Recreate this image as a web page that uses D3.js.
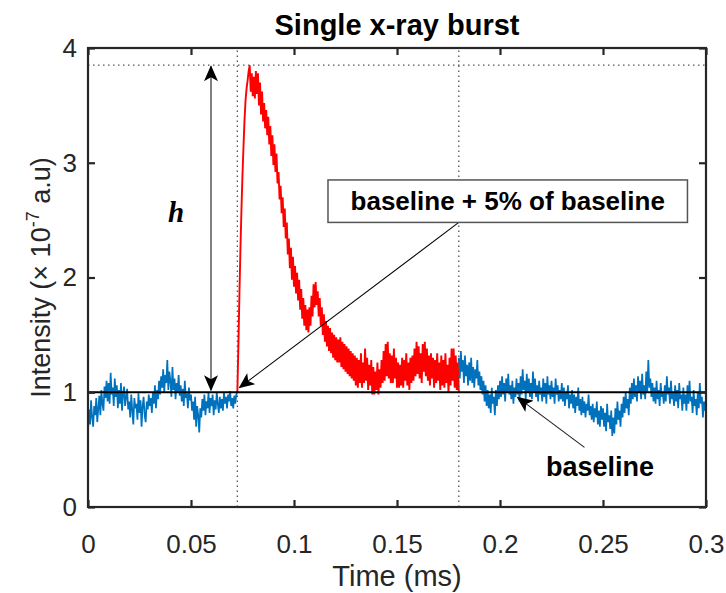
<!DOCTYPE html>
<html>
<head>
<meta charset="utf-8">
<script src="https://cdnjs.cloudflare.com/ajax/libs/d3/7.8.5/d3.min.js"></script>
<style>
  html, body { margin: 0; padding: 0; background: #fff; }
  svg { display: block; font-family: "Liberation Sans", Arial, sans-serif; }
</style>
</head>
<body>
<svg id="chart" width="726" height="593"></svg>
<script>
// ---------------- DATA ----------------
const sampleStep = 0.0005; // ms between samples
const preStart = 0.0;
const preBurst = [
  0.66,0.85,0.72,0.93,0.78,0.70,0.88,0.80,0.95,0.74,
  0.86,0.97,0.80,1.02,0.90,0.84,1.05,0.95,1.10,0.92,
  1.08,0.90,1.17,0.98,1.04,0.88,1.12,0.96,1.06,0.86,
  1.02,0.90,1.08,0.84,0.98,1.05,0.88,0.96,1.03,0.85,
  0.92,0.78,0.98,0.84,0.72,0.95,0.86,0.90,0.76,0.99,
  0.82,0.93,0.70,0.88,0.96,0.80,0.74,0.92,0.85,0.98,
  0.88,0.95,0.82,1.00,0.90,1.06,0.86,1.02,0.94,1.10,
  0.98,1.14,1.04,1.20,1.00,1.15,1.08,1.28,1.02,1.18,
  1.10,0.96,1.22,1.02,1.12,0.94,1.08,1.00,1.15,0.97,
  1.06,0.92,1.03,0.88,1.10,0.95,0.99,0.86,1.04,0.93,
  0.98,0.84,0.92,0.76,0.96,0.70,0.88,0.80,0.65,0.86,
  0.78,0.94,0.84,0.98,0.80,0.92,0.86,1.00,0.82,0.95,
  0.88,0.98,0.80,0.93,0.85,1.00,0.90,0.82,0.96,0.86,
  0.94,0.84,1.00,0.90,0.96,0.86,0.98,0.92,1.01,0.88,
  0.95,0.86,0.97,0.90,0.98,1.00];
const burstStart = 0.0725;
const burst = [
  1.00,1.40,1.85,2.25,2.60,2.90,3.15,3.38,3.55,3.65,
  3.72,3.80,3.85,3.62,3.78,3.58,3.75,3.56,3.80,3.60,
  3.78,3.50,3.70,3.42,3.62,3.36,3.52,3.30,3.46,3.24,
  3.40,3.16,3.32,3.06,3.24,2.98,3.16,2.92,3.08,2.82,
  2.92,2.68,2.80,2.56,2.70,2.44,2.60,2.34,2.48,2.20,
  2.34,2.08,2.26,1.98,2.18,1.92,2.10,1.86,2.04,1.80,
  1.98,1.72,1.90,1.64,1.82,1.58,1.76,1.54,1.72,1.52,
  1.74,1.58,1.84,1.66,1.94,1.74,1.96,1.76,1.88,1.66,
  1.82,1.58,1.74,1.50,1.68,1.44,1.62,1.40,1.58,1.36,
  1.56,1.34,1.52,1.30,1.50,1.28,1.48,1.26,1.46,1.26,
  1.48,1.22,1.44,1.20,1.42,1.18,1.40,1.16,1.38,1.14,
  1.36,1.12,1.34,1.10,1.32,1.06,1.30,1.04,1.28,1.08,
  1.34,1.04,1.26,1.08,1.38,1.10,1.30,1.02,1.24,1.06,
  1.28,0.98,1.22,0.98,1.18,1.02,1.26,0.98,1.20,1.04,
  1.28,1.08,1.36,1.10,1.42,1.14,1.44,1.12,1.34,1.08,
  1.32,1.08,1.38,1.12,1.30,1.04,1.26,1.04,1.24,1.06,
  1.30,1.04,1.28,1.10,1.34,1.06,1.26,1.02,1.30,1.08,
  1.32,1.10,1.38,1.14,1.44,1.16,1.40,1.12,1.34,1.08,
  1.42,1.18,1.44,1.14,1.38,1.10,1.32,1.06,1.34,1.12,
  1.30,1.04,1.28,1.08,1.34,1.10,1.26,1.02,1.32,1.06,
  1.28,1.04,1.34,1.08,1.24,1.00,1.30,1.06,1.38,1.10,
  1.38,1.04,1.32,1.02,1.26,1.00];
const postStart = 0.18;
const postBurst = [
  1.30,1.12,1.36,1.18,1.28,1.08,1.32,1.14,1.24,1.06,
  1.26,1.10,1.30,1.08,1.22,1.04,1.20,1.12,1.28,1.06,
  1.18,1.02,1.14,0.98,1.10,0.92,1.06,0.88,1.02,0.86,
  0.98,0.82,1.04,0.90,0.96,0.80,1.02,0.88,1.06,0.94,
  1.10,0.96,1.14,0.98,1.08,0.92,1.12,1.00,1.16,0.98,
  1.06,0.94,1.10,0.90,1.04,0.96,1.12,0.98,1.08,0.92,
  1.14,0.98,1.20,1.02,1.10,0.94,1.16,1.00,1.12,0.96,
  1.08,0.94,1.18,1.00,1.12,0.96,1.06,0.92,1.10,0.98,
  1.04,0.92,1.12,0.96,1.08,0.90,1.14,0.98,1.06,0.94,
  1.10,0.96,1.04,0.90,1.12,0.98,1.06,0.92,1.02,0.94,
  1.08,0.92,1.04,0.88,1.00,0.94,1.06,0.86,0.98,0.90,
  1.02,0.86,0.98,0.82,0.96,0.88,1.04,0.84,0.94,0.80,
  0.96,0.82,0.92,0.78,0.90,0.84,0.98,0.80,0.88,0.76,
  0.90,0.74,0.86,0.78,0.92,0.72,0.84,0.70,0.88,0.76,
  0.86,0.70,0.82,0.66,0.90,0.74,0.80,0.68,0.84,0.62,
  0.78,0.64,0.86,0.72,0.92,0.76,0.84,0.70,0.90,0.78,
  0.96,0.82,1.00,0.86,0.94,0.80,1.04,0.90,1.08,0.94,
  1.12,0.96,1.06,0.92,1.14,1.00,1.10,0.94,1.16,0.98,
  1.06,0.94,1.18,1.00,1.28,1.04,1.12,0.96,1.08,0.92,
  1.04,0.90,1.10,0.94,1.02,0.88,1.08,0.96,1.00,0.90,
  1.06,0.92,1.14,0.98,1.04,0.90,1.10,0.94,1.00,0.88,
  1.06,0.92,1.02,0.86,1.08,0.94,0.98,0.84,1.04,0.90,
  0.98,0.84,1.06,0.90,1.10,0.92,0.96,0.82,1.02,0.88,
  0.94,0.80,1.00,0.86,1.08,0.90,0.96,0.78,0.92,0.84,
  0.90];
const xTicks = [0, 0.05, 0.1, 0.15, 0.2, 0.25, 0.3];
const xTickLabels = ["0", "0.05", "0.1", "0.15", "0.2", "0.25", "0.3"];
const yTicks = [0, 1, 2, 3, 4];
const baselineValue = 1.0;
const peakValue = 3.85;
const burstMarkers = [0.0725, 0.18];
const hArrowTime = 0.0597;
const titleText = "Single x-ray burst";
const xLabelText = "Time (ms)";
const annotText = "baseline + 5% of baseline";
const baselineText = "baseline";

// ---------------- LAYOUT ----------------
const W = 726, H = 593;
const m = {left: 88, right: 20, top: 48, bottom: 86};
const svg = d3.select("#chart");
const x = d3.scaleLinear().domain([0, 0.3]).range([m.left, W - m.right]);
const y = d3.scaleLinear().domain([0, 4]).range([H - m.bottom, m.top]);
const axisColor = "#262626";

const toPts = (start, arr) => arr.map((v, i) => [start + i * sampleStep, v]);
const line = d3.line().x(d => x(d[0])).y(d => y(d[1]));

const defs = svg.append("defs");
defs.append("clipPath").attr("id", "clip").append("rect")
  .attr("x", m.left).attr("y", m.top).attr("width", W - m.left - m.right).attr("height", H - m.top - m.bottom);
defs.append("marker").attr("id", "bighead").attr("viewBox", "0 0 16 14")
  .attr("refX", 15).attr("refY", 7).attr("markerWidth", 16).attr("markerHeight", 14)
  .attr("markerUnits", "userSpaceOnUse").attr("orient", "auto-start-reverse")
  .append("path").attr("d", "M0,0 L16,7 L0,14 L4,7 Z").attr("fill", "#000");

const plot = svg.append("g").attr("clip-path", "url(#clip)");

// series
const seriesWidth = 1.7;
plot.append("path").datum(toPts(preStart, preBurst)).attr("d", line)
  .attr("fill", "none").attr("stroke", "#0072BD").attr("stroke-width", seriesWidth);
plot.append("path").datum(toPts(postStart, postBurst)).attr("d", line)
  .attr("fill", "none").attr("stroke", "#0072BD").attr("stroke-width", seriesWidth);
plot.append("path").datum(toPts(burstStart, burst)).attr("d", line)
  .attr("fill", "none").attr("stroke", "#FF0000").attr("stroke-width", seriesWidth + 0.2);

// dotted guides
burstMarkers.forEach(t => {
  svg.append("line").attr("x1", x(t)).attr("x2", x(t)).attr("y1", y(0)).attr("y2", y(4))
    .attr("stroke", "#555").attr("stroke-width", 1.3).attr("stroke-dasharray", "1.5,3.5");
});
svg.append("line").attr("x1", x(0)).attr("x2", x(0.3)).attr("y1", y(peakValue)).attr("y2", y(peakValue))
  .attr("stroke", "#555").attr("stroke-width", 1.3).attr("stroke-dasharray", "1.5,3.5");

// baseline
svg.append("line").attr("x1", x(0)).attr("x2", x(0.3)).attr("y1", y(baselineValue)).attr("y2", y(baselineValue))
  .attr("stroke", "#000").attr("stroke-width", 2);

// h double arrow
svg.append("line").attr("x1", x(hArrowTime)).attr("x2", x(hArrowTime))
  .attr("y1", y(baselineValue) - 2).attr("y2", y(peakValue) + 1)
  .attr("stroke", "#808080").attr("stroke-width", 2)
  .attr("marker-start", "url(#bighead)").attr("marker-end", "url(#bighead)");
svg.append("text").attr("x", 176).attr("y", 222)
  .attr("font-family", "'Liberation Serif', 'DejaVu Serif', serif").attr("font-style", "italic")
  .attr("font-weight", "bold").attr("font-size", 29).attr("text-anchor", "middle").text("h");

// annotation arrow (box -> onset)
svg.append("line").attr("x1", x(0.18)).attr("y1", y(2.48))
  .attr("x2", x(0.0735)).attr("y2", y(1.04))
  .attr("stroke", "#000").attr("stroke-width", 1.1).attr("marker-end", "url(#bighead)");
// annotation box
svg.append("rect").attr("x", x(0.1165)).attr("y", y(2.85))
  .attr("width", x(0.291) - x(0.1165)).attr("height", y(2.48) - y(2.85))
  .attr("fill", "#fff").attr("stroke", "#555").attr("stroke-width", 1.5);
svg.append("text").attr("x", (x(0.1165) + x(0.291)) / 2).attr("y", y(2.665) + 9)
  .attr("text-anchor", "middle").attr("font-weight", "bold").attr("font-size", 26)
  .attr("fill", "#000").text(annotText);

// baseline label arrow
svg.append("line").attr("x1", x(0.241)).attr("y1", y(0.52))
  .attr("x2", x(0.2085)).attr("y2", y(0.955))
  .attr("stroke", "#222").attr("stroke-width", 1.1).attr("marker-end", "url(#bighead)");
svg.append("text").attr("x", 600).attr("y", 476).attr("text-anchor", "middle")
  .attr("font-weight", "bold").attr("font-size", 27).attr("fill", "#000").text(baselineText);

// axes box
svg.append("rect").attr("x", m.left).attr("y", m.top)
  .attr("width", W - m.left - m.right).attr("height", H - m.top - m.bottom)
  .attr("fill", "none").attr("stroke", axisColor).attr("stroke-width", 2.2);

// axes (ticks inward)
const tickFont = 26;
const xAxis = d3.axisBottom(x).tickValues(xTicks).tickFormat((d, i) => xTickLabels[i])
  .tickSizeInner(-7).tickSizeOuter(0).tickPadding(28);
const gx = svg.append("g").attr("transform", `translate(0,${y(0)})`).call(xAxis);
gx.select(".domain").remove();
gx.selectAll("line").attr("stroke", axisColor).attr("stroke-width", 2.2);
gx.selectAll("text").attr("fill", axisColor).attr("font-size", tickFont).attr("font-family", "'Liberation Sans', Arial, sans-serif");

const xTop = d3.axisTop(x).tickValues(xTicks).tickFormat("").tickSizeInner(-7).tickSizeOuter(0);
const gxt = svg.append("g").attr("transform", `translate(0,${y(4)})`).call(xTop);
gxt.select(".domain").remove();
gxt.selectAll("line").attr("stroke", axisColor).attr("stroke-width", 2.2);

const yAxis = d3.axisLeft(y).tickValues(yTicks).tickFormat(d3.format("d"))
  .tickSizeInner(-7).tickSizeOuter(0).tickPadding(11);
const gy = svg.append("g").attr("transform", `translate(${x(0)},0)`).call(yAxis);
gy.select(".domain").remove();
gy.selectAll("line").attr("stroke", axisColor).attr("stroke-width", 2.2);
gy.selectAll("text").attr("fill", axisColor).attr("font-size", tickFont).attr("font-family", "'Liberation Sans', Arial, sans-serif");

const yRight = d3.axisRight(y).tickValues(yTicks).tickFormat("").tickSizeInner(-7).tickSizeOuter(0);
const gyr = svg.append("g").attr("transform", `translate(${x(0.3)},0)`).call(yRight);
gyr.select(".domain").remove();
gyr.selectAll("line").attr("stroke", axisColor).attr("stroke-width", 2.2);

// title
svg.append("text").attr("x", (x(0) + x(0.3)) / 2).attr("y", 35).attr("text-anchor", "middle")
  .attr("font-weight", "bold").attr("font-size", 29).attr("fill", "#000").text(titleText);

// x label
svg.append("text").attr("x", (x(0) + x(0.3)) / 2).attr("y", 586).attr("text-anchor", "middle")
  .attr("font-size", 29).attr("fill", axisColor).text(xLabelText);

// y label
const yl = svg.append("text").attr("transform", `translate(50,${(y(0) + y(4)) / 2}) rotate(-90)`)
  .attr("text-anchor", "middle").attr("font-size", 27).attr("fill", axisColor);
yl.append("tspan").text("Intensity (\u00D7 10");
yl.append("tspan").attr("dy", -11).attr("font-size", 18).text("-7");
yl.append("tspan").attr("dy", 11).text(" a.u)");
</script>
</body>
</html>
